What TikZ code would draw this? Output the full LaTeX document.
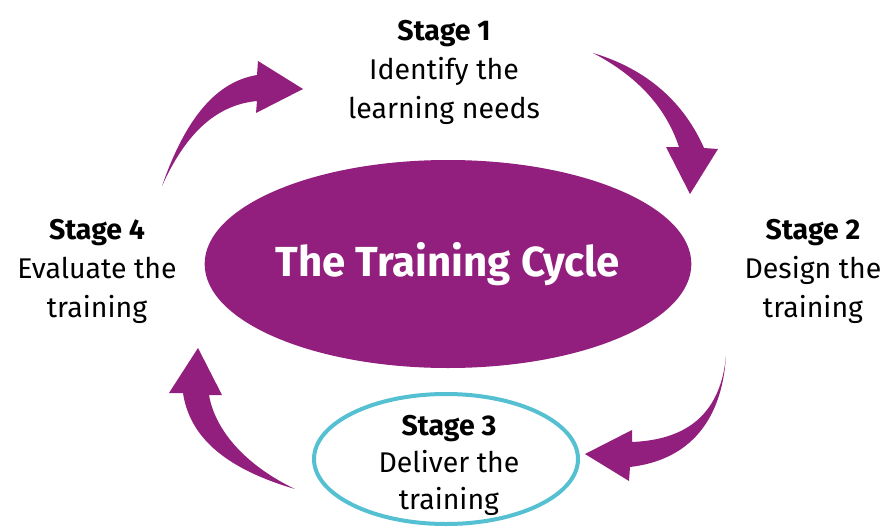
\documentclass[tikz,border=0pt]{standalone}
\usepackage{fontspec}
\usetikzlibrary{shapes.geometric}
\setmainfont{Fira Sans}
\definecolor{tcpurple}{RGB}{146,31,125}
\definecolor{tcteal}{RGB}{84,192,210}
\begin{document}
\begin{tikzpicture}[x=1pt,y=-1pt,
  stagetext/.style={inner sep=0pt, anchor=north, align=center, text=black,
    font=\fontsize{28.5}{39}\selectfont},
  arrowshape/.style={fill=tcpurple, draw=none}]
\useasboundingbox (0,0) rectangle (886,527);
% central ellipse
\node[ellipse, fill=tcpurple, minimum width=478pt, minimum height=208pt, inner sep=0pt,
  text=white, font=\fontsize{42}{48}\selectfont\bfseries] (cycle) at (448,264) {The Training Cycle};
% stage 3 ellipse
\node[ellipse, draw=tcteal, line width=4pt, minimum width=264pt, minimum height=130pt, inner sep=0pt] (s3e) at (446,459) {};
% texts
\node[stagetext] (s1) at (444,20) {\textbf{Stage 1}\\Identify the\\learning needs};
\node[stagetext] (s2) at (813,219) {\textbf{Stage 2}\\Design the\\training};
\node[stagetext, font=\fontsize{28.5}{37}\selectfont] (s3) at (449,415) {\textbf{Stage 3}\\Deliver the\\training};
\node[stagetext] (s4) at (97,219) {\textbf{Stage 4}\\Evaluate the\\training};
% arrows
\fill[arrowshape] (162,186) .. controls (185,120) and (215,82) .. (257,75) -- (258,61) -- (303,89) -- (256,113) -- (257,101) .. controls (215,105) and (185,135) .. (162,186) -- cycle;
\fill[arrowshape] (593,53) .. controls (650,70) and (685,105) .. (704,148) -- (718,149) -- (690,194) -- (666,147) -- (679,147) .. controls (665,105) and (635,75) .. (593,53) -- cycle;
\fill[arrowshape] (726,356) .. controls (720,420) and (680,440) .. (632,442) -- (632,430) -- (585,454) -- (629,481) -- (630,467) .. controls (690,460) and (722,420) .. (726,356) -- cycle;
\fill[arrowshape] (295,489) .. controls (230,470) and (190,440) .. (183,393) -- (169,393) -- (198,348) -- (222,395) -- (209,395) .. controls (215,430) and (245,465) .. (295,489) -- cycle;
\end{tikzpicture}
\end{document}
